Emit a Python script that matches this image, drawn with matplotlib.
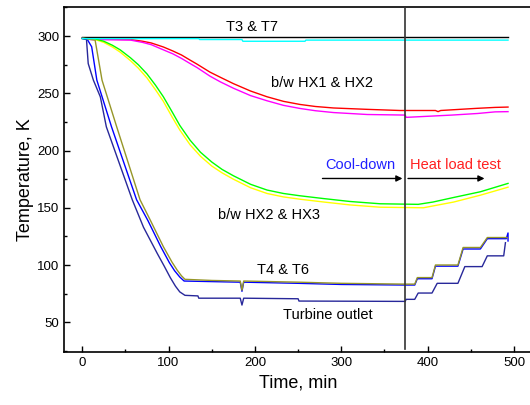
import matplotlib
matplotlib.use("Agg")
import matplotlib.pyplot as plt
from matplotlib.ticker import MultipleLocator

plt.rcParams['font.family'] = ['Liberation Sans', 'DejaVu Sans']

# T3 & T7
t_t3 = [0, 493]
k_t3 = [299, 299]
t_t7 = [0, 135, 136, 185, 186, 258, 259, 493]
k_t7 = [297.8, 297.8, 297, 297, 295.5, 295.5, 296.5, 296.5]

# b/w HX1 & HX2
t_hx12a = [0, 10, 56, 70, 80, 94, 105, 115, 125, 133, 148, 160, 175, 195, 214, 233, 252, 270, 291, 330, 368,
           409, 412, 415, 455, 478, 493]
k_hx12a = [298, 297.5, 297, 295.5, 294, 290.5, 287, 283.5, 279, 275.5, 268.5, 264, 258.5, 252, 247, 243, 240.3, 238.5,
           237.2, 236, 235, 235, 234, 235, 236.8, 237.7, 238]
t_hx12b = [0, 10, 56, 70, 80, 94, 105, 115, 125, 133, 148, 160, 175, 195, 214, 233, 252, 270, 291, 330, 374,
           375, 428, 458, 478, 493]
k_hx12b = [298, 297, 296.5, 294.5, 292.5, 288, 284.5, 280.5, 276, 272.5, 265, 260, 254.5, 248, 243.5, 239.5, 236.8, 234.8,
           233.2, 231.5, 231, 229, 231, 232.4, 233.8, 234]

# b/w HX2 & HX3
t_hx23a = [0, 15, 25, 35, 44, 56, 65, 75, 85, 94, 104, 113, 125, 137, 150, 162, 175, 195, 214, 233, 252, 280, 310,
           345, 389, 406, 430, 461, 493]
k_hx23a = [298, 297.5, 295.5, 292, 288, 281, 275, 267, 257, 247, 234, 222, 209, 198.5, 190, 183.5, 178, 170.5, 165.5,
           162.5, 160.5, 158, 155.5, 153.5, 153, 155, 159, 164, 171.3]
t_hx23b = [0, 15, 25, 35, 44, 56, 65, 75, 85, 94, 104, 113, 125, 137, 150, 162, 175, 195, 214, 233, 252, 280, 310,
           345, 395, 430, 461, 493]
k_hx23b = [298, 297, 294.5, 290.5, 286, 278.5, 272, 263.5, 253, 243, 229.5, 218, 205, 195, 186.5, 180.5, 175, 167.5, 162.5,
           159.5, 157.5, 155, 152.5, 150.5, 150, 155, 161, 168]

# T4 & T6
t_t4 = [0, 15, 23, 40, 67, 79, 94, 104, 110, 115, 119, 150, 183, 185, 187, 250, 300, 374, 385, 388, 405, 409, 435,
        441, 461, 469, 492]
k_t4 = [298, 296.5, 261.5, 220.7, 157, 139, 116, 102.5, 95.5, 90.5, 87.5, 86.5, 86, 78, 86, 85, 84, 83.3, 83.3, 89, 89,
        100, 100, 115.3, 115.3, 124, 124]
t_t6 = [0, 6, 11, 17, 34, 63, 76, 91, 101, 107, 113, 118, 150, 183, 185, 187, 250, 300, 374, 385, 388, 405, 409, 435,
        441, 461, 469, 491, 493, 493]
k_t6 = [298, 297, 290.7, 261.5, 220.7, 157, 139, 116, 102, 95, 89.5, 86, 85.5, 85, 77, 85, 84, 83, 82.5, 82.5, 88, 88,
        99, 99, 114, 114, 123, 123, 128, 121]

# Turbine outlet
t_turb = [0, 5, 7, 13, 21, 28, 58, 71, 87, 95, 102, 108, 113, 119, 134, 135, 183, 185, 187, 250, 251, 374, 375, 385,
          389, 405, 411, 435, 443, 463, 469, 488, 490]
k_turb = [298, 297, 276, 261.5, 247, 220.7, 157, 133, 110, 99, 89, 81.5, 76.5, 73.5, 73, 71, 71, 65, 71, 70.5, 68.5,
          68.2, 70, 70, 75.5, 75.5, 84, 84, 98.6, 98.6, 108, 108, 119.5]

t_split = 374

fig = plt.figure(figsize=(5.3, 4.05), dpi=100)
ax = fig.add_axes([0.1208, 0.1309, 0.885, 0.8506])

lw = 1.0
ax.plot(t_t3, k_t3, color='black', lw=lw, zorder=2)
ax.plot(t_t7, k_t7, color='#00ffff', lw=lw, zorder=3)
ax.plot(t_hx12a, k_hx12a, color='#ff0000', lw=lw)
ax.plot(t_hx12b, k_hx12b, color='#ff00ff', lw=lw)
ax.plot(t_hx23b, k_hx23b, color='#ffff00', lw=lw)
ax.plot(t_hx23a, k_hx23a, color='#00ff00', lw=lw)
ax.plot(t_t6, k_t6, color='#0000ff', lw=lw)
ax.plot(t_t4, k_t4, color='#969628', lw=lw)
ax.plot(t_turb, k_turb, color='#28289a', lw=lw)

ax.plot([t_split, t_split], [27, 325], color='#333333', lw=1.2, zorder=4)

fs = 10.5
ax.text(197, 308, 'T3 & T7', fontsize=fs, ha='center', va='center')
ax.text(278, 259, 'b/w HX1 & HX2', fontsize=fs, ha='center', va='center')
ax.text(216, 143.5, 'b/w HX2 & HX3', fontsize=fs, ha='center', va='center')
ax.text(232, 96, 'T4 & T6', fontsize=fs, ha='center', va='center')
ax.text(284, 56, 'Turbine outlet', fontsize=fs, ha='center', va='center')
ax.text(363, 187, 'Cool-down', fontsize=fs, ha='right', va='center', color='#2020ff')
ax.text(380, 187, 'Heat load test', fontsize=fs, ha='left', va='center', color='#ff2020')

arr = dict(arrowstyle='-|>', color='black', lw=1.0, mutation_scale=9)
ax.annotate('', xy=(t_split, 175.6), xytext=(275, 175.6), arrowprops=arr)
ax.annotate('', xy=(469, 175.6), xytext=(t_split, 175.6), arrowprops=arr)

ax.set_xlim(-21, 522)
ax.set_ylim(24, 325)
ax.xaxis.set_major_locator(MultipleLocator(100))
ax.xaxis.set_minor_locator(MultipleLocator(50))
ax.yaxis.set_major_locator(MultipleLocator(50))
ax.yaxis.set_minor_locator(MultipleLocator(25))
ax.tick_params(which='both', direction='in', labelsize=9.5, width=1.0)
ax.tick_params(which='major', length=4.5)
ax.tick_params(which='minor', length=2.5)
for s in ax.spines.values():
    s.set_linewidth(1.2)

ax.set_xlabel('Time, min', fontsize=13)
ax.set_ylabel('Temperature, K', fontsize=13, labelpad=2)

fig.savefig('out.png', dpi=100)
